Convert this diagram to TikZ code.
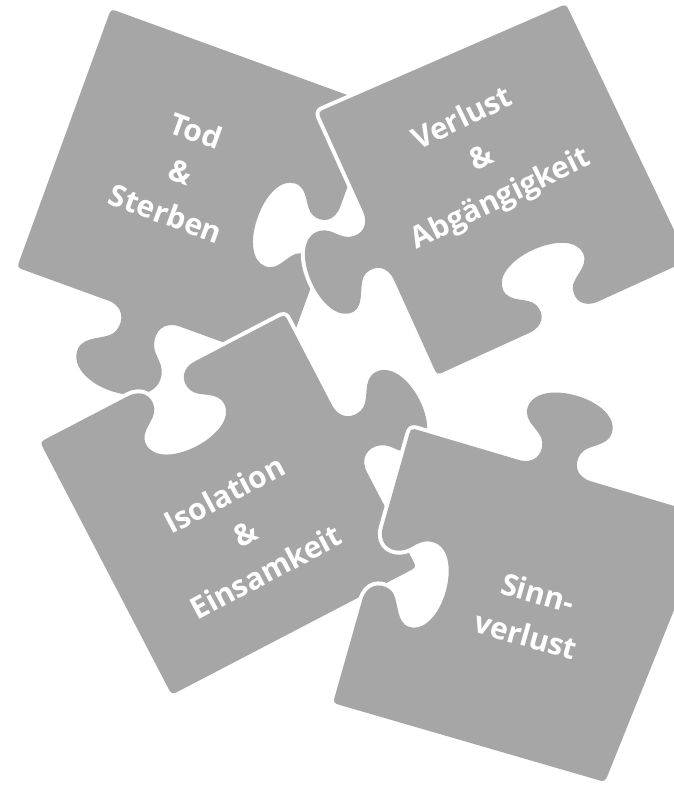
\documentclass[tikz,border=0pt]{standalone}
\usepackage{fontspec}
\newfontfamily\pfont{Open Sans}
\usetikzlibrary{calc}
\definecolor{pg}{HTML}{A6A6A6}
% point at distance s along A->B, offset d outward (left of travel)
\newcommand\tp[5]{\coordinate (#1) at ($(#2)!{(#4)*1pt}!(#3)!{(#5)*1pt}!90:(#3)$);}
% #1 name, #2 A, #3 B, #4 centre along edge, #5 signed depth, #6 lean
\newcommand\deftab[6]{%
 \tp{#1-1}{#2}{#3}{#4-38}{0}
 \tp{#1-2}{#2}{#3}{#4-22}{0}
 \tp{#1-3}{#2}{#3}{#4-16}{0.15*(#5)}
 \tp{#1-4}{#2}{#3}{#4-20}{0.3*(#5)}
 \tp{#1-5}{#2}{#3}{#4-24}{0.45*(#5)}
 \tp{#1-6}{#2}{#3}{#4-44+(#6)}{0.475*(#5)}
 \tp{#1-7}{#2}{#3}{#4-44+(#6)}{0.675*(#5)}
 \tp{#1-8}{#2}{#3}{#4-44+(#6)}{0.875*(#5)}
 \tp{#1-9}{#2}{#3}{#4-24+(#6)}{#5}
 \tp{#1-10}{#2}{#3}{#4+(#6)}{#5}
 \tp{#1-11}{#2}{#3}{#4+24+(#6)}{#5}
 \tp{#1-12}{#2}{#3}{#4+44+(#6)}{0.875*(#5)}
 \tp{#1-13}{#2}{#3}{#4+44+(#6)}{0.675*(#5)}
 \tp{#1-14}{#2}{#3}{#4+44+(#6)}{0.475*(#5)}
 \tp{#1-15}{#2}{#3}{#4+24}{0.45*(#5)}
 \tp{#1-16}{#2}{#3}{#4+20}{0.3*(#5)}
 \tp{#1-17}{#2}{#3}{#4+16}{0.15*(#5)}
 \tp{#1-18}{#2}{#3}{#4+22}{0}
 \tp{#1-19}{#2}{#3}{#4+38}{0}
}
\newcommand\tabpath[1]{-- (#1-1) .. controls (#1-2) and (#1-3) .. (#1-4)
 .. controls (#1-5) and (#1-6) .. (#1-7) .. controls (#1-8) and (#1-9) .. (#1-10)
 .. controls (#1-11) and (#1-12) .. (#1-13) .. controls (#1-14) and (#1-15) .. (#1-16)
 .. controls (#1-17) and (#1-18) .. (#1-19)}
\newcommand\corner[3]{-- ($(#2)!9pt!(#1)$) .. controls (#2) .. ($(#2)!9pt!(#3)$)}
\tikzset{
 piece/.style={fill=pg, preaction={draw=white, line width=8pt, line join=round}},
 lbl/.style={text=white, font=\pfont\bfseries\fontsize{30}{44}\selectfont, align=center, inner sep=0pt}
}
\begin{document}
\begin{tikzpicture}[x=1pt, y=-1pt]
\useasboundingbox (0,0) rectangle (674,785);
\clip (0,0) rectangle (674,785);
% piece A: Tod & Sterben
\coordinate (Atl) at (111,9);
\coordinate (Atr) at (377,105.8);
\coordinate (Abr) at (283,364);
\coordinate (Abl) at (17,267.5);
\deftab{Ar}{Atr}{Abr}{145}{-74}{0}
\deftab{Ab}{Abr}{Abl}{148}{84}{6}
% piece B: Verlust & Abgaengigkeit
\coordinate (Btl) at (318,112);
\coordinate (Btr) at (566,4);
\coordinate (Bbr) at (688.5,260.3);
\coordinate (Bbl) at (437,375);
\deftab{Bb}{Bbr}{Bbl}{137}{-74}{0}
\deftab{Bl}{Bbl}{Btl}{142}{76}{-6}
% piece C: Isolation & Einsamkeit
\coordinate (Ctl) at (40,442);
\coordinate (Ctr) at (284.8,314.5);
\coordinate (Cbr) at (416.5,567.3);
\coordinate (Cbl) at (171.7,694.8);
\deftab{Ct}{Ctl}{Ctr}{137}{-76}{0}
\deftab{Cr}{Ctr}{Cbr}{140}{80}{-3}
% piece D: Sinnverlust
\coordinate (Dtl) at (411,428);
\coordinate (Dtr) at (711.4,517);
\coordinate (Dbr) at (605,782);
\coordinate (Dbl) at (333,703);
\deftab{Dt}{Dtl}{Dtr}{150}{78}{0}
\deftab{Dl}{Dbl}{Dtl}{145}{-78}{-7}

\path[piece] ($(Atl)!9pt!(Atr)$) \corner{Atl}{Atr}{Abr} \tabpath{Ar}
  \corner{Atr}{Abr}{Abl} \tabpath{Ab} \corner{Abr}{Abl}{Atl} \corner{Abl}{Atl}{Atr} -- cycle;
\path[piece] ($(Btl)!9pt!(Btr)$) \corner{Btl}{Btr}{Bbr}
  \corner{Btr}{Bbr}{Bbl} \tabpath{Bb} \corner{Bbr}{Bbl}{Btl} \tabpath{Bl} \corner{Bbl}{Btl}{Btr} -- cycle;
\path[piece] ($(Ctl)!9pt!(Ctr)$) \tabpath{Ct} \corner{Ctl}{Ctr}{Cbr} \tabpath{Cr}
  \corner{Ctr}{Cbr}{Cbl} \corner{Cbr}{Cbl}{Ctl} \corner{Cbl}{Ctl}{Ctr} -- cycle;
\path[piece] ($(Dtl)!9pt!(Dtr)$) \tabpath{Dt} \corner{Dtl}{Dtr}{Dbr}
  \corner{Dtr}{Dbr}{Dbl} \corner{Dbr}{Dbl}{Dtl} \tabpath{Dl} \corner{Dbl}{Dtl}{Dtr} -- cycle;

\node[lbl, rotate=-20] (t1) at (181,172) {Tod\\\&\\Sterben};
\node[lbl, rotate=26] (t2) at (482,160) {Verlust\\\&\\Abgängigkeit};
\node[lbl, rotate=28] (t3) at (245,533) {Isolation\\\&\\Einsamkeit};
\node[lbl, rotate=-16] (t4) at (532,614) {Sinn-\\verlust};
\end{tikzpicture}
\end{document}
